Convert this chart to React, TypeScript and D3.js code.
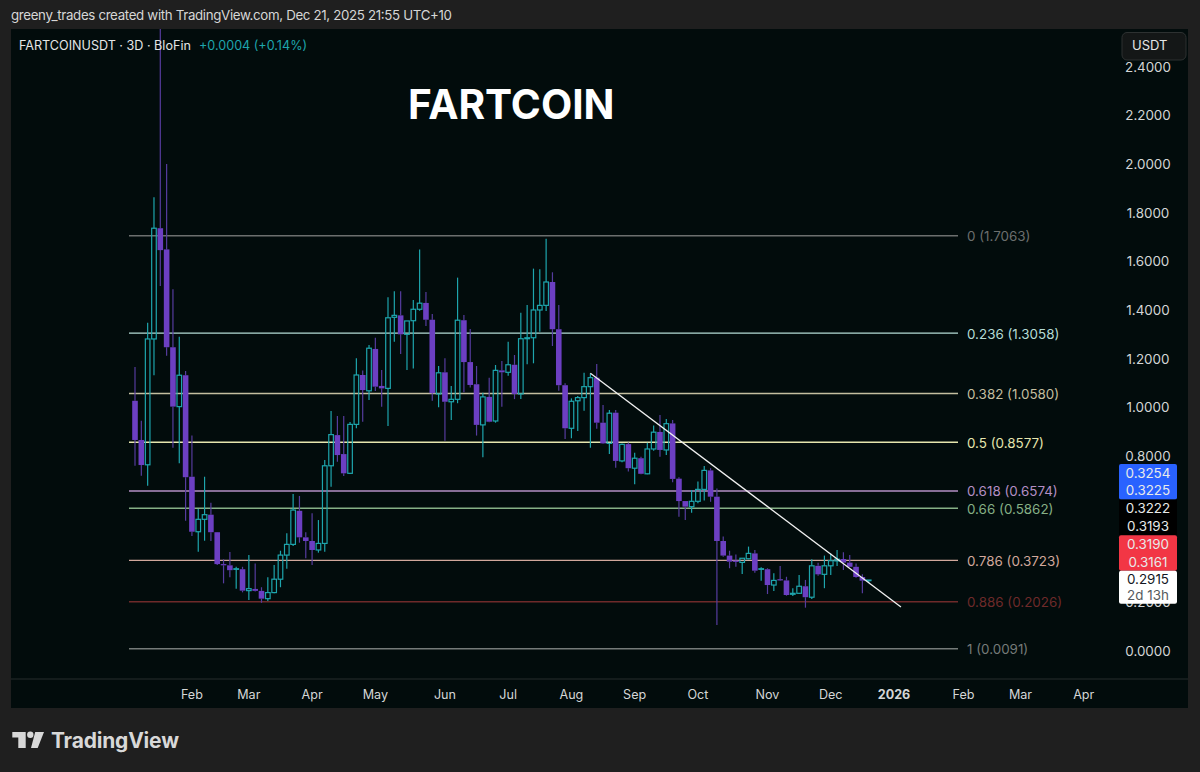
import * as d3 from 'd3'

const opens = [
  1.028, 0.867, 0.765, 1.282, 1.737, 1.65, 1.248, 1.004, 1.133, 0.716,
  0.49, 0.541, 0.56, 0.488, 0.357, 0.352, 0.336, 0.336, 0.248, 0.255,
  0.247, 0.215, 0.24, 0.295, 0.394, 0.438, 0.576, 0.467, 0.452, 0.415,
  0.442, 0.761, 0.887, 0.809, 0.73, 0.931, 1.134, 1.069, 1.241, 1.089,
  1.079, 1.371, 1.379, 1.301, 1.357, 1.404, 1.43, 1.361, 1.056, 1.145,
  1.024, 1.034, 1.359, 1.187, 1.096, 0.929, 1.044, 0.945, 1.153, 1.145,
  1.176, 1.056, 1.283, 1.287, 1.401, 1.42, 1.516, 1.322, 1.092, 0.915,
  1.028, 1.041, 1.086, 1.123, 0.938, 0.853, 0.979, 0.781, 0.85, 0.751,
  0.792, 0.728, 0.83, 0.9, 0.826, 0.935, 0.708, 0.616, 0.593, 0.615,
  0.664, 0.742, 0.634, 0.452, 0.392, 0.372, 0.364, 0.379, 0.401, 0.336,
  0.336, 0.271, 0.295, 0.29, 0.233, 0.237, 0.266, 0.221, 0.35, 0.315,
  0.35, 0.37, 0.378, 0.363, 0.346, 0.304, 0.2911,
]
const closes = [
  0.867, 0.764, 1.282, 1.737, 1.647, 1.248, 1.004, 1.133, 0.714, 0.49,
  0.541, 0.56, 0.488, 0.357, 0.352, 0.332, 0.338, 0.248, 0.256, 0.247,
  0.215, 0.24, 0.295, 0.394, 0.438, 0.579, 0.467, 0.452, 0.415, 0.442,
  0.761, 0.889, 0.805, 0.73, 0.931, 1.134, 1.072, 1.244, 1.086, 1.079,
  1.369, 1.379, 1.301, 1.356, 1.404, 1.429, 1.361, 1.059, 1.143, 1.024,
  1.034, 1.359, 1.187, 1.093, 0.929, 1.044, 0.942, 1.153, 1.145, 1.176,
  1.056, 1.283, 1.287, 1.401, 1.42, 1.516, 1.322, 1.092, 0.915, 1.026,
  1.041, 1.086, 1.123, 0.938, 0.853, 0.977, 0.781, 0.849, 0.751, 0.792,
  0.728, 0.83, 0.899, 0.826, 0.934, 0.707, 0.616, 0.593, 0.615, 0.664,
  0.742, 0.634, 0.452, 0.392, 0.367, 0.366, 0.381, 0.401, 0.33, 0.338,
  0.271, 0.29, 0.29, 0.23, 0.237, 0.266, 0.221, 0.35, 0.315, 0.35,
  0.371, 0.377, 0.363, 0.346, 0.304, 0.289, 0.2915,
]
const highs = [
  1.167, 0.946, 1.349, 1.864, 2.62, 2.001, 1.486, 1.291, 1.15, 0.885,
  0.583, 0.716, 0.609, 0.489, 0.377, 0.407, 0.346, 0.346, 0.394, 0.36,
  0.262, 0.303, 0.353, 0.412, 0.484, 0.645, 0.637, 0.488, 0.566, 0.538,
  0.785, 0.986, 0.965, 0.965, 0.941, 1.203, 1.152, 1.257, 1.287, 1.154,
  1.453, 1.478, 1.478, 1.356, 1.442, 1.65, 1.475, 1.385, 1.171, 1.203,
  1.089, 1.534, 1.38, 1.323, 1.171, 1.061, 1.123, 1.175, 1.191, 1.271,
  1.216, 1.39, 1.422, 1.571, 1.568, 1.694, 1.556, 1.422, 1.1, 1.038,
  1.048, 1.143, 1.141, 1.179, 1.011, 0.99, 0.99, 0.853, 0.857, 0.815,
  0.798, 0.856, 0.926, 0.97, 0.953, 0.949, 0.714, 0.616, 0.661, 0.696,
  0.76, 0.751, 0.668, 0.47, 0.412, 0.396, 0.381, 0.429, 0.415, 0.344,
  0.34, 0.319, 0.349, 0.305, 0.258, 0.312, 0.292, 0.377, 0.363, 0.392,
  0.401, 0.415, 0.406, 0.394, 0.36, 0.315, 0.2915,
]
const lows = [
  0.761, 0.72, 0.679, 1.133, 1.5, 1.213, 0.835, 0.771, 0.535, 0.472,
  0.408, 0.453, 0.452, 0.353, 0.278, 0.303, 0.256, 0.241, 0.21, 0.244,
  0.198, 0.205, 0.237, 0.262, 0.338, 0.431, 0.445, 0.381, 0.353, 0.404,
  0.408, 0.675, 0.778, 0.719, 0.727, 0.915, 0.942, 1.031, 1.068, 1.004,
  0.924, 1.271, 1.22, 1.154, 1.161, 1.398, 1.335, 1.028, 1.001, 0.864,
  0.949, 1.018, 1.063, 1.083, 0.885, 0.796, 0.94, 0.938, 1.004, 1.131,
  1.035, 1.035, 1.178, 1.182, 1.312, 1.397, 1.253, 1.069, 0.871, 0.874,
  0.904, 0.987, 0.835, 0.913, 0.85, 0.809, 0.753, 0.775, 0.737, 0.685,
  0.726, 0.726, 0.823, 0.798, 0.805, 0.693, 0.552, 0.538, 0.568, 0.607,
  0.618, 0.613, 0.107, 0.387, 0.34, 0.346, 0.316, 0.377, 0.322, 0.289,
  0.234, 0.247, 0.288, 0.227, 0.226, 0.234, 0.178, 0.214, 0.309, 0.258,
  0.312, 0.349, 0.333, 0.345, 0.301, 0.237, 0.279,
]

const fibRatios = ['0', '0.236', '0.382', '0.5', '0.618', '0.66', '0.786', '0.886', '1']
const fibPrices = [1.7063, 1.3058, 1.058, 0.8577, 0.6574, 0.5862, 0.3723, 0.2026, 0.0091]
const fibColors = ['#6c6f6e', '#b5dcd6', '#c4bfa0', '#e6e6ae', '#b48fc4', '#86b086', '#d2a89c', '#6e2a2a', '#757b79']

// 0.4000 and 0.6000 sit fully under the price tags in the picture, so they are left out
const priceTicks = [0, 0.2, 0.8, 1, 1.2, 1.4, 1.6, 1.8, 2, 2.2, 2.4]
const monthLabels = ['Feb', 'Mar', 'Apr', 'May', 'Jun', 'Jul', 'Aug', 'Sep', 'Oct', 'Nov', 'Dec', '2026', 'Feb', 'Mar', 'Apr']
const monthBars = [9, 18, 28, 38, 49, 59, 69, 79, 89, 100, 110, 120, 131, 140, 150]

// bar index and price of the two ends of the trendline
const trendBars = [72, 121.1]
const trendPrices = [1.141, 0.181]

const tagTexts = ['0.3254', '0.3225', '0.3222', '0.3193', '0.3190', '0.3161', '0.2915', '2d 13h']
const tagFills = ['#2962ff', '#000000', '#f23645', '#ffffff']

const UP = '#1ea5ad'
const DOWN = '#6c3fc2'
const DOWN_WICK = '#563c9e'
const PANE = '#020c0c'
const FONT = 'Inter, "Noto Sans", sans-serif'

export default function App() {
  const width = 1200
  const height = 772
  const pane = { left: 11, top: 29, right: 1188, bottom: 708 }
  const axisY = 679

  const x = d3.scaleLinear().domain([0, 116]).range([135, 868.7])
  const y = d3.scaleLinear().domain([0, 2.4]).range([651, 66.84])
  const bodyW = 4.6

  const trend = d3.line<number>()
    .x((b) => x(b))
    .y((_, i) => y(trendPrices[i]))

  return (
    <svg
      width={width}
      height={height}
      viewBox={`0 0 ${width} ${height}`}
      style={{ position: 'absolute', left: 0, top: 0, display: 'block' }}
      fontFamily={FONT}
    >
      <defs>
        <clipPath id="plot">
          <rect x={pane.left} y={pane.top} width={pane.right - pane.left} height={axisY - pane.top} />
        </clipPath>
      </defs>
      <rect width={width} height={height} fill="#1f1f1f" />
      <text x={11} y={20} fontSize={13.3} textLength={441} fill="#d6d6d6">
        greeny_trades created with TradingView.com, Dec 21, 2025 21:55 UTC+10
      </text>

      <rect x={pane.left} y={pane.top} width={pane.right - pane.left} height={pane.bottom - pane.top} fill={PANE} />
      <line x1={pane.left} x2={pane.right} y1={axisY} y2={axisY} stroke="#272c2c" />

      {fibPrices.map((p, i) => (
        <g key={fibRatios[i]}>
          <line x1={129} x2={958} y1={y(p)} y2={y(p)} stroke={fibColors[i]} strokeWidth={1.4} />
          <text x={967} y={y(p) + 5.4} fontSize={13.4} fill={fibColors[i]}>
            {`${fibRatios[i]} (${p.toFixed(4)})`}
          </text>
        </g>
      ))}

      <g clipPath="url(#plot)">
        {opens.map((open, i) => {
          const close = closes[i]
          const up = close >= open
          const top = y(Math.max(open, close))
          const bottom = y(Math.min(open, close))
          const cx = x(i)
          return (
            <g key={i}>
              <line x1={cx} x2={cx} y1={y(highs[i])} y2={top} stroke={up ? UP : DOWN_WICK} strokeWidth={1.2} />
              <line x1={cx} x2={cx} y1={bottom} y2={y(lows[i])} stroke={up ? UP : DOWN_WICK} strokeWidth={1.2} />
              {up ? (
                <rect x={cx - bodyW / 2} y={top} width={bodyW} height={Math.max(bottom - top, 0.6)} fill="none" stroke={UP} strokeWidth={1.2} />
              ) : (
                <rect x={cx - (bodyW + 1) / 2} y={top} width={bodyW + 1} height={Math.max(bottom - top, 1.2)} fill={DOWN} />
              )}
            </g>
          )
        })}
        <path d={trend(trendBars) ?? ''} fill="none" stroke="#f2f2f2" strokeWidth={1.3} />
      </g>

      <text x={19} y={50} fontSize={12.6} fill="#e4e6e6">FARTCOINUSDT · 3D · BloFin</text>
      <text x={199} y={50} fontSize={12.6} fill="#1ea5ad">+0.0004 (+0.14%)</text>
      <text x={408} y={119} fontSize={40.6} fontWeight={700} fill="#ffffff">FARTCOIN</text>

      {priceTicks.map((t) => (
        <text key={t} x={1148} y={y(t) + 4.8} fontSize={13.4} textAnchor="middle" fill="#d4d6d6">
          {t.toFixed(4)}
        </text>
      ))}

      <rect x={1122} y={32.5} width={64} height={27.5} rx={5} fill="#141717" stroke="#2d3131" />
      <text x={1132} y={50} fontSize={13} fill="#e4e6e6">USDT</text>

      {tagFills.map((fill, i) => (
        <g key={fill}>
          <rect x={1119} y={464 + i * 35.6} width={58} height={i === 3 ? 33 : 35.6} rx={i === 1 ? 0 : 2} fill={fill} />
          <text
            x={1148}
            y={464 + i * 35.6 + 13.6}
            fontSize={13.4}
            textAnchor="middle"
            fill={i === 3 ? '#131722' : '#e8eaea'}
          >
            {tagTexts[i * 2]}
          </text>
          <text
            x={1148}
            y={464 + i * 35.6 + (i === 3 ? 29 : 31.4)}
            fontSize={13.4}
            textAnchor="middle"
            fill={i === 3 ? '#555a5e' : '#e8eaea'}
          >
            {tagTexts[i * 2 + 1]}
          </text>
        </g>
      ))}

      {monthLabels.map((label, i) => (
        <text
          key={`${label}-${i}`}
          x={x(monthBars[i])}
          y={699}
          fontSize={12.6}
          textAnchor="middle"
          fontWeight={label === '2026' ? 700 : 400}
          fill="#d4d6d6"
        >
          {label}
        </text>
      ))}

      <g fill="#d8d8d8">
        <path d="M12.3 732 H25.7 V748 H18.3 V737.5 H12.3 Z" />
        <circle cx={30.3} cy={734.8} r={3.2} />
        <path d="M35.2 732 H44 L37.7 748 H31 Z" />
      </g>
      <text x={51} y={748} fontSize={21} fontWeight={700} textLength={128} fill="#d8d8d8">TradingView</text>
    </svg>
  )
}
